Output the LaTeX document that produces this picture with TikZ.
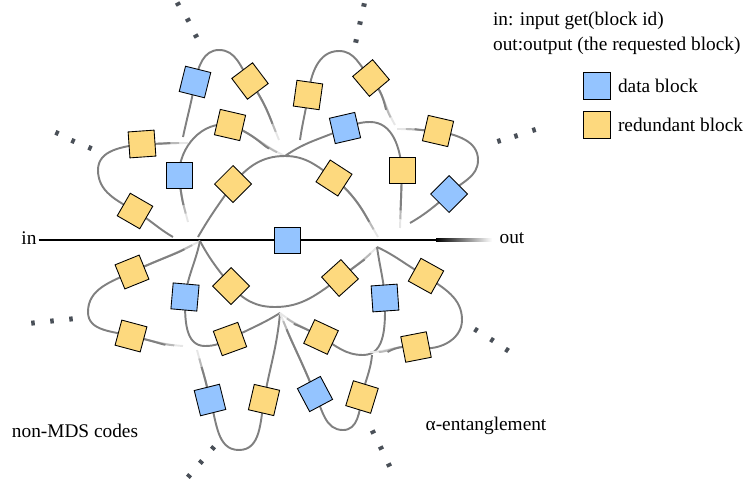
\documentclass[tikz,border=0pt]{standalone}
\usepackage{fontspec}
\setmainfont{Liberation Serif}
\usetikzlibrary{backgrounds,positioning}
\definecolor{datablue}{HTML}{94C4FF}
\definecolor{redyellow}{HTML}{FDD97E}
\definecolor{linkgray}{HTML}{808080}
\definecolor{dotgray}{HTML}{4A5058}
\tikzset{
	block/.style={draw=black, line width=0.5pt, minimum size=0.52cm, inner sep=0pt},
	datablock/.style={block, fill=datablue},
	redblock/.style={block, fill=redyellow},
	link/.style={draw=linkgray, line width=1.1pt},
	fadeend/.style={link, draw=linkgray!20,
			postaction={draw=linkgray!55, shorten >=#1},
			postaction={draw=linkgray, shorten >=2*#1}},
	fadeend/.default=5pt,
	mainline/.style={draw=black, line width=1.6pt},
	dotmark/.style={fill=dotgray, minimum width=0.07cm, minimum height=0.1cm, inner sep=0pt},
	txt/.style={font=\fontsize{11}{13}\selectfont, inner sep=1pt},
}
\begin{document}
\begin{tikzpicture}[x=0.02cm, y=0.02cm]
	\path[use as bounding box] (0,0) rectangle (746,-480);

	\foreach \n/\x/\y in {hubT/285/156, hubL/200/241, hubR/377/247, hubB/280/313,
			A0/188/222, B0/183/137, Bpk/219/50, B1/279/140, C0/300/140, Cpk/339/51, C1/395/125,
			Dpk/370/122, D1/400/228, E0/397/129, Epk/478/160, E1/410/223,
			F0/188/143, Fpk/98/170, F1/173/237, G0/198/237, G1/378/237,
			Hpk/88/312, H1/183/346, Ipk/205/346, Jpk/275/307, Kpk/363/355,
			Lpk/462/320, L1/370/352, M0/197/350, Mpk/239/450, Npk/343/430, N1/372/355}
		\coordinate (\n) at (\x,-\y);

	\foreach \n/\x/\y/\r in {d1/195/82/-14, d2/345/128/13, d3/179/175/0, d4/449/194/45, d5/287/240/0,
			d6/185/297/-5, d7/210/400/14, d8/315/394/28, d9/385/298/4}
		\node[datablock, rotate=\r] (\n) at (\x,-\y) {};
	\foreach \n/\x/\y/\r in {r1/250/81/37, r2/308/95/-8, r3/371/78/40, r4/230/125/-13, r5/142/144/4,
			r6/233/184/45, r7/334/178/-33, r8/135/211/-30, r9/438/131/-13, r10/402/170/0,
			r11/132/272/22, r12/231/286/45, r13/340/278/42, r14/131/336/-15, r15/230/339/20,
			r16/321/337/-25, r17/264/400/-13, r18/362/397/-17, r19/426/276/-29, r20/416/347/11}
		\node[redblock, rotate=\r] (\n) at (\x,-\y) {};

	\node[txt] (inlabel) at (29,-238) {in};
	\node[txt] (outlabel) at (512,-238) {out};
	\coordinate (fadestart) at (436,-240);

	\begin{scope}[on background layer]
		\draw[mainline] (inlabel.east |- fadestart) -- (fadestart);
		\shade[left color=black, right color=white] (fadestart) ++(0,1.4) rectangle ++(56,-2.8);
		% upper loops
		\draw[fadeend] (d3.center) to[out=-85,in=105] (A0);
		\draw[link] (d3.center) to[out=90,in=170] (r4.center);
		\draw[fadeend] (r4.center) to[out=-20,in=155] (hubT);
		\draw[link] (B0) to[out=78,in=-100] (d1.center) to[out=78,in=180] (Bpk) to[out=0,in=125] (r1.center);
		\draw[fadeend] (r1.center) to[out=-55,in=112] (B1);
		\draw[link] (C0) to[out=82,in=-98] (r2.center) to[out=82,in=180] (Cpk) to[out=0,in=135] (r3.center);
		\draw[fadeend] (r3.center) to[out=-50,in=120] (C1);
		\draw[link] (hubT) to[out=35,in=-155] (d2.center) to[out=20,in=180] (Dpk) to[out=0,in=95] (r10.center);
		\draw[fadeend] (r10.center) to[out=-92,in=88] (D1);
		\draw[fadeend] (r9.center) to[out=178,in=0] (E0);
		\draw[link] (r9.center) to[out=-12,in=90] (Epk) to[out=-90,in=45] (d4.center) to[out=-140,in=30] (E1);
		\draw[fadeend] (r5.center) to[out=0,in=180] (F0);
		\draw[link] (r5.center) to[out=188,in=90] (Fpk) to[out=-90,in=150] (r8.center) to[out=-30,in=150] (F1);
		\draw[link] (G0) to[out=60,in=-125] (r6.center) to[out=50,in=180] (hubT) to[out=0,in=145] (r7.center);
		\draw[fadeend] (r7.center) to[out=-40,in=120] (G1);
		% lower loops
		\draw[fadeend] (r11.center) to[out=25,in=-152] (hubL);
		\draw[link] (r11.center) to[out=205,in=90] (Hpk) to[out=-90,in=165] (r14.center);
		\draw[fadeend] (r14.center) to[out=-12,in=176] (H1);
		\draw[link] (hubL) to[out=-102,in=82] (d6.center) to[out=-90,in=180] (Ipk) to[out=0,in=-155] (r15.center) to[out=28,in=-148] (hubB);
		\draw[link] (hubL) to[out=-62,in=128] (r12.center) to[out=-48,in=180] (Jpk) to[out=0,in=-145] (r13.center);
		\draw[fadeend] (r13.center) to[out=38,in=-135] (hubR);
		\draw[link] (hubR) to[out=-82,in=95] (d9.center) to[out=-90,in=0] (Kpk) to[out=180,in=-30] (r16.center);
		\draw[fadeend] (r16.center) to[out=150,in=-38] (hubB);
		\draw[link] (hubR) to[out=-25,in=152] (r19.center) to[out=-35,in=90] (Lpk) to[out=-90,in=-15] (r20.center);
		\draw[fadeend] (r20.center) to[out=172,in=0] (L1);
		\draw[fadeend] (d7.center) to[out=102,in=-75] (M0);
		\draw[link] (d7.center) to[out=-72,in=180] (Mpk) to[out=0,in=-100] (r17.center) to[out=80,in=-95] (hubB);
		\draw[fadeend] (d8.center) to[out=112,in=-68] (hubB);
		\draw[link] (d8.center) to[out=-65,in=180] (Npk) to[out=0,in=-100] (r18.center) to[out=80,in=-95] (N1);
	\end{scope}

	% continuation marks
	\foreach \x/\y/\a in {178/4/-61, 188/20/-61, 196/36/-61, 364/5/78, 360/23/78, 356/41/78,
			57/133/-24, 73/141/-24, 90/148/-24, 499/141/17, 516/136/17, 534/130/17,
			33/323/6, 52/321/6, 71/319/6, 476/330/-33, 492/340/-33, 507/350/-33,
			213/448/49, 201/462/49, 189/476/49, 373/432/-64, 381/448/-64, 389/465/-64}
		\node[dotmark, rotate=\a] (dot-\x-\y) at (\x,-\y) {};

	\node[txt, anchor=west] (note1) at (491,-21) {in: input get(block id)};
	\node[txt, anchor=west] (note2) at (491,-46) {out:output (the requested block)};
	\node[datablock, minimum size=0.54cm] (keyd) at (597,-86) {};
	\node[txt, right=0.1cm of keyd] (keydtext) {data block};
	\node[redblock, minimum size=0.54cm, below=0.22cm of keyd] (keyr) {};
	\node[txt, right=0.1cm of keyr] (keyrtext) {redundant block};

	\node[txt] (nonmds) at (75,-431) {non-MDS codes};
	\node[txt] (alpha) at (486,-426) {α-entanglement};
\end{tikzpicture}
\end{document}
